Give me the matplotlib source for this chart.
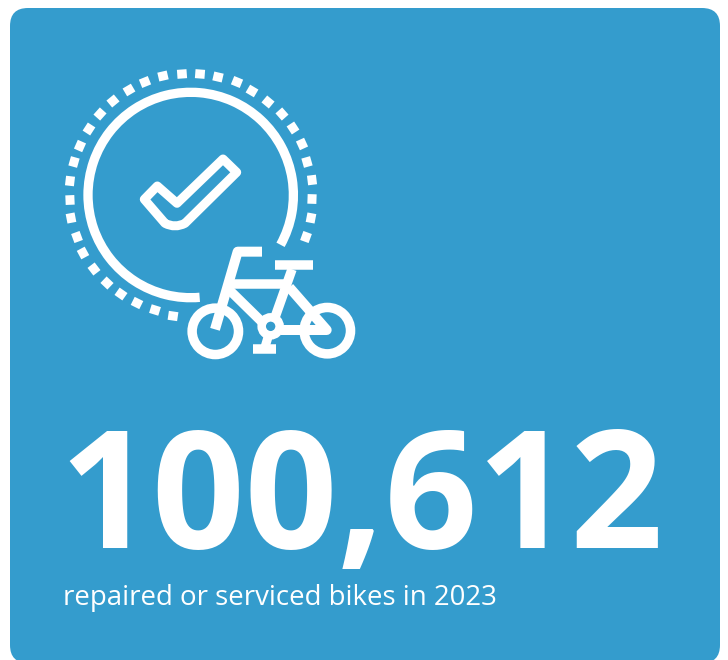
import numpy as np
import matplotlib
matplotlib.use('Agg')
import matplotlib.pyplot as plt
from matplotlib.patches import FancyBboxPatch, Circle, Arc, PathPatch
from matplotlib.path import Path

headline = "100,612"
caption = "repaired or serviced bikes in 2023"

CARD = "#349CCD"
PX = 0.72  # one pixel in points at dpi 100

# ring of dots (pixels)
dots_x = [182, 200, 218, 237, 252, 268, 282, 293, 302, 307, 312, 312, 311, 306,
          163, 145, 129, 113, 100, 89, 80, 74, 70, 70, 71, 77, 83, 94, 107, 121, 137, 155, 173]
dots_y = [74, 74, 77, 82, 91, 102, 114, 128, 144, 162, 180, 199, 218, 237,
          76, 82, 90, 101, 114, 129, 146, 162, 181, 200, 218, 237, 253, 269, 283, 294, 303, 310, 316]


def line(ax, pts, width, cap='butt', join='round'):
    xs = [p[0] for p in pts]
    ys = [p[1] for p in pts]
    ax.plot(xs, ys, color='white', lw=width * PX, solid_capstyle=cap, solid_joinstyle=join)


def ring(ax, x, y, r, width):
    ax.add_patch(Circle((x, y), r, fill=False, ec='white', lw=width * PX))


def bike(x, y):
    # coordinates taken from a 3x crop starting at (170, 230)
    return (170 + x / 3, 230 + y / 3)


def fit_width(fig, txt, target):
    # scale the font size until the text is as wide as in the picture
    w = txt.get_window_extent(fig.canvas.get_renderer()).width
    txt.set_fontsize(txt.get_fontsize() * target / w)


fig = plt.figure(figsize=(7.28, 6.6), dpi=100)
ax = fig.add_axes([0, 0, 1, 1])
ax.set_xlim(0, 728)
ax.set_ylim(660, 0)
ax.axis('off')

ax.add_patch(FancyBboxPatch((28, 26), 674, 619, boxstyle="round,pad=18,rounding_size=18",
                            fc=CARD, ec='none', zorder=0))

# big arc, y axis is flipped so the angles run clockwise on screen
cx, cy = 190.7, 195
ax.add_patch(Arc((cx, cy), 205.4, 205.4, theta1=85, theta2=389, color='white', lw=9.3 * PX))

# dots
for x, y in zip(dots_x, dots_y):
    a = np.arctan2(y - cy, x - cx)
    tx, ty = -np.sin(a) * 4.8, np.cos(a) * 4.8
    line(ax, [(x - tx, y - ty), (x + tx, y + ty)], 9)

# check mark
verts = [(157.3, 186), (177, 203.3), (223, 159), (236.7, 172.3), (185, 223.3),
         (175, 228.5), (165, 223.3), (144.3, 199.3), (157.3, 186), (157.3, 186)]
codes = [Path.MOVETO, Path.LINETO, Path.LINETO, Path.LINETO, Path.LINETO,
         Path.CURVE3, Path.CURVE3, Path.LINETO, Path.LINETO, Path.CLOSEPOLY]
ax.add_patch(PathPatch(Path(verts, codes), fill=False, ec='white', lw=9 * PX, joinstyle='round'))

# bike
ring(ax, *bike(136, 304), 23.2, 9.5)
ring(ax, *bike(472, 302), 23.2, 9.5)
ring(ax, *bike(302, 289), 9, 8.5)
line(ax, [bike(135, 298), bike(203, 65), bike(276, 65)], 10)
line(ax, [bike(165, 163), bike(355, 163)], 9.5)
line(ax, [bike(314, 105), bike(428, 105)], 9.5)
line(ax, [bike(366, 118), bike(315, 262)], 9.5)
line(ax, [bike(170, 172), bike(275, 275)], 9.5)
line(ax, [bike(358, 172), bike(470, 300), bike(332, 300)], 10)
line(ax, [bike(295, 318), bike(283, 358)], 9)
line(ax, [bike(248, 358), bike(317, 358)], 9.5)

big = ax.text(59, 548, headline, color='white', fontsize=118, family='Open Sans', fontweight=700,
              ha='left', va='baseline')
small = ax.text(63, 605, caption, color='white', fontsize=19.5, family='Open Sans',
                ha='left', va='baseline')
fit_width(fig, big, 604)
fit_width(fig, small, 436)

fig.savefig('out.png', dpi=100)
